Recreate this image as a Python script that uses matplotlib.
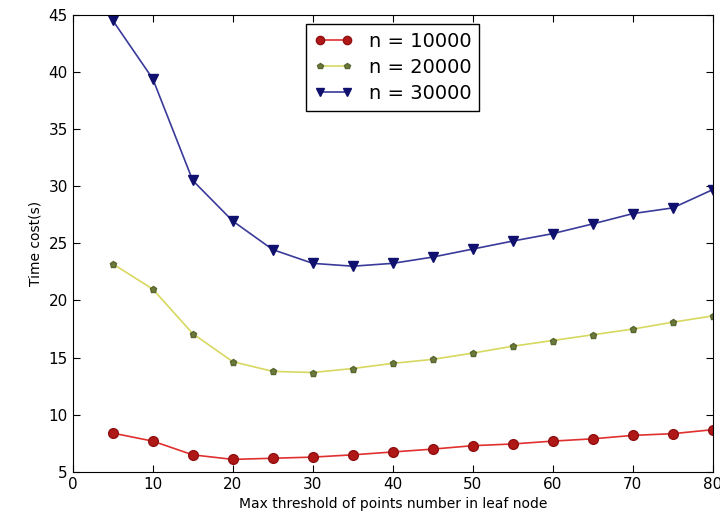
import matplotlib.pyplot as plt

thresholds = [5, 10, 15, 20, 25, 30, 35, 40, 45, 50, 55, 60, 65, 70, 75, 80]
time_10000 = [8.4, 7.7, 6.5, 6.1, 6.2, 6.3, 6.5, 6.75, 7.0, 7.3, 7.45, 7.7, 7.9, 8.2, 8.35, 8.7]
time_20000 = [23.2, 21.0, 17.1, 14.65, 13.8, 13.7, 14.05, 14.5, 14.85, 15.4, 16.0, 16.5, 17.0, 17.5, 18.1, 18.65]
time_30000 = [44.5, 39.4, 30.5, 26.95, 24.45, 23.25, 23.0, 23.25, 23.8, 24.5, 25.2, 25.85, 26.7, 27.6, 28.1, 29.7]


def main():
    fig = plt.figure(figsize=(7.2, 5.25), dpi=100)
    ax = fig.add_axes([0.101, 0.101, 0.889, 0.871])

    ax.plot(thresholds, time_10000, color='#e03030', marker='o', markersize=7,
            markerfacecolor='#b01818', markeredgecolor='#901010', linewidth=1.2, label='n = 10000')
    ax.plot(thresholds, time_20000, color='#d8d860', marker='p', markersize=5,
            markerfacecolor='#6b7a3a', markeredgecolor='#5a6630', linewidth=1.2, label='n = 20000')
    ax.plot(thresholds, time_30000, color='#3a3a9a', marker='v', markersize=7,
            markerfacecolor='#10106e', markeredgecolor='#10106e', linewidth=1.2, label='n = 30000')

    ax.set_xlim(0, 80)
    ax.set_ylim(5, 45)
    ax.set_xticks(range(0, 81, 10))
    ax.set_yticks(range(5, 46, 5))
    ax.tick_params(direction='in', top=True, right=True, labelsize=11, length=5)
    ax.set_xlabel('Max threshold of points number in leaf node', fontsize=10)
    ax.set_ylabel('Time cost(s)', fontsize=10)

    leg = ax.legend(loc='upper center', fontsize=14, fancybox=False, edgecolor='black',
                    framealpha=1, borderaxespad=0.5, numpoints=2, labelspacing=0.35,
                    borderpad=0.4, markerscale=0.85)
    leg.get_frame().set_linewidth(1.0)

    fig.savefig('out.png', dpi=100)


if __name__ == '__main__':
    main()
